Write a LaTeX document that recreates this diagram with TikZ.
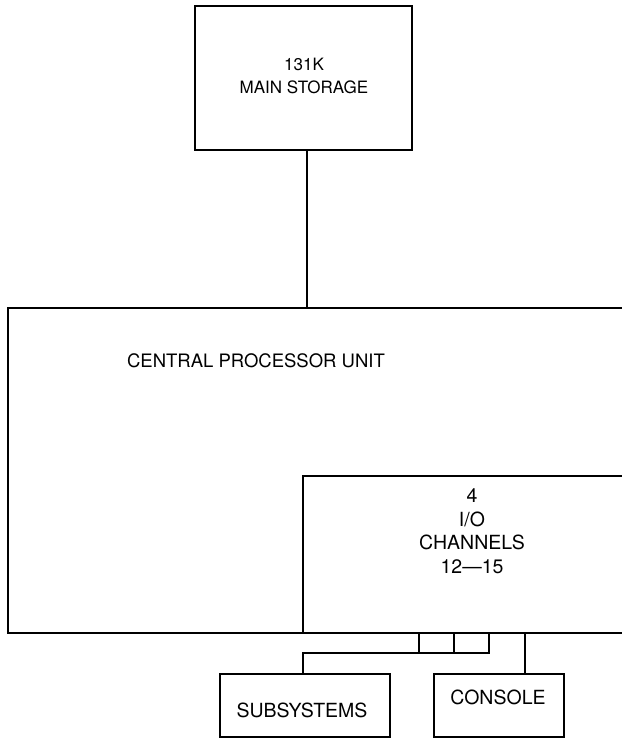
\documentclass[tikz,border=0pt]{standalone}
\usepackage{fontspec}
\setmainfont{TeX Gyre Heros}
\begin{document}
\begin{tikzpicture}[x=1pt,y=-1pt,line width=2pt,
  box/.style={draw,rectangle,inner sep=0pt},
  lbl/.style={align=center,inner sep=0pt}]
\useasboundingbox (0,0) rectangle (622,740);
% main storage
\node[box,minimum width=217pt,minimum height=144pt] (ms) at (303.5,78) {};
\node[lbl,font=\fontsize{17}{23}\selectfont] (mst) at (304,76) {131K\\MAIN STORAGE};
% CPU (open on the right)
\coordinate (cpuTL) at (8,308);
\coordinate (cpuTR) at (622,308);
\coordinate (cpuBL) at (8,633);
\coordinate (cpuBR) at (622,633);
\draw (cpuTR) -- (cpuTL) -- (cpuBL) -- (cpuBR);
\node[lbl,font=\fontsize{18.5}{23}\selectfont] (cput) at (256,361) {CENTRAL PROCESSOR UNIT};
% I/O channels
\coordinate (ioTL) at (303,476);
\coordinate (ioTR) at (622,476);
\coordinate (ioBL) at (303,633);
\draw (ioTR) -- (ioTL) -- (ioBL);
\node[lbl,font=\fontsize{19.5}{23.5}\selectfont] (iot) at (472,531) {4\\I/O\\CHANNELS\\12---15};
% storage to CPU
\coordinate (cputop) at (307,308);
\draw (ms.south -| cputop) -- (cputop);
% subsystems and console
\node[box,minimum width=170pt,minimum height=63pt] (sub) at (305,705.5) {};
\node[lbl,font=\fontsize{19.5}{23}\selectfont] (subt) at (302,710) {SUBSYSTEMS};
\node[box,minimum width=130pt,minimum height=63pt] (con) at (499,705.5) {};
\node[lbl,font=\fontsize{19.5}{23}\selectfont] (cont) at (498,697) {CONSOLE};
% bus
\coordinate (b1) at (419,633);
\coordinate (b2) at (454,633);
\coordinate (b3) at (489,633);
\coordinate (bus) at (303,653);
\draw (sub.north -| bus) -- (bus) -- (bus -| b3) -- (b3);
\draw (b1) -- (b1 |- bus);
\draw (b2) -- (b2 |- bus);
\coordinate (c1) at (525,633);
\draw (c1) -- (c1 |- con.north);
\end{tikzpicture}
\end{document}
